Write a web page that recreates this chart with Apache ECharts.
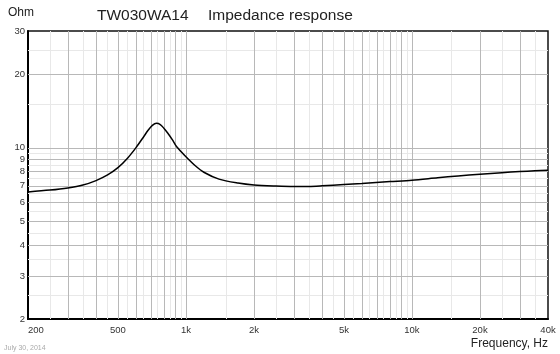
<!DOCTYPE html>
<html>
<head>
<meta charset="utf-8">
<script src="https://cdn.jsdelivr.net/npm/echarts@6/dist/echarts.min.js"></script>
<style>
  html, body { margin: 0; padding: 0; background: #fff; }
  #chart { width: 560px; height: 354px; }
</style>
</head>
<body>
<div id="chart"></div>
<script>
// impedance curve
const freqs = [200, 250, 300, 350, 400, 450, 500, 550, 600, 650, 680, 710, 740, 770, 800, 830, 870, 910, 1000, 1100, 1200, 1400, 1700, 2000, 2500, 3000, 3500, 4000, 5000, 6000, 8000, 10000, 13000, 16000, 20000, 25000, 30000, 35000, 40000];
const ohms = [6.60, 6.72, 6.86, 7.05, 7.35, 7.75, 8.30, 9.05, 10.0, 11.1, 11.8, 12.35, 12.6, 12.45, 12.0, 11.5, 10.8, 10.1, 9.2, 8.45, 7.95, 7.45, 7.18, 7.05, 6.98, 6.95, 6.96, 7.0, 7.08, 7.15, 7.28, 7.38, 7.55, 7.68, 7.80, 7.92, 8.0, 8.06, 8.1];

// tick labels
const xTicks = [200, 500, 1000, 2000, 5000, 10000, 20000, 40000];
const yTicks = [2, 3, 4, 5, 6, 7, 8, 9, 10, 20, 30];

// grid lines
const xMajor = [300, 400, 500, 600, 700, 800, 900, 1000, 2000, 3000, 4000, 5000, 6000, 7000, 8000, 9000, 10000, 20000, 30000];
const xMinor = [250, 350, 450, 550, 650, 750, 850, 950, 1500, 2500, 3500, 4500, 5500, 6500, 7500, 8500, 9500, 15000, 25000, 35000];
const yMajor = [3, 4, 5, 6, 7, 8, 9, 10, 20];
const yMinor = [2.5, 3.5, 4.5, 5.5, 6.5, 7.5, 8.5, 9.5, 15, 25];

const FONT = "Liberation Sans, Arial, sans-serif";
const chart = echarts.init(document.getElementById("chart"));

const gridLines = [
  ...xMinor.map((v) => ({ xAxis: v, lineStyle: { color: "#e8e8e8", width: 1, type: "solid" } })),
  ...yMinor.map((v) => ({ yAxis: v, lineStyle: { color: "#e8e8e8", width: 1, type: "solid" } })),
  ...xMajor.map((v) => ({ xAxis: v, lineStyle: { color: "#b8b8b8", width: 1, type: "solid" } })),
  ...yMajor.map((v) => ({ yAxis: v, lineStyle: { color: "#b8b8b8", width: 1, type: "solid" } })),
];

chart.setOption({
  animation: false,
  backgroundColor: "#fff",
  grid: {
    left: 28, right: 12, top: 31, bottom: 35,
    show: true, borderColor: "#111", borderWidth: 1.5,
  },
  graphic: [
    { type: "text", left: 8, top: 7, style: { text: "Ohm", font: `12px ${FONT}`, fill: "#222" } },
    { type: "text", left: 97, top: 8, style: { text: "TW030WA14", font: `15.5px ${FONT}`, fill: "#222" } },
    { type: "text", left: 208, top: 8, style: { text: "Impedance response", font: `15.5px ${FONT}`, fill: "#222" } },
    { type: "text", right: 12, top: 338, style: { text: "Frequency, Hz", font: `12px ${FONT}`, fill: "#222" } },
    { type: "text", left: 4, top: 345, style: { text: "July 30, 2014", font: `7px ${FONT}`, fill: "#aaa" } },
  ],
  xAxis: {
    type: "log", logBase: 10, min: 200, max: 40000,
    axisLine: { show: true, onZero: false, lineStyle: { color: "#000", width: 2 } },
    axisTick: { show: false },
    splitLine: { show: false },
    axisLabel: {
      customValues: xTicks,
      alignMinLabel: "left",
      color: "#333", fontSize: 9.5, fontFamily: FONT, margin: 6,
      formatter: (v) => (v >= 1000 ? v / 1000 + "k" : String(v)),
    },
  },
  yAxis: {
    type: "log", logBase: 10, min: 2, max: 30,
    axisLine: { show: true, onZero: false, lineStyle: { color: "#000", width: 2 } },
    axisTick: { show: false },
    splitLine: { show: false },
    axisLabel: {
      customValues: yTicks,
      color: "#333", fontSize: 9.5, fontFamily: FONT, margin: 3,
    },
  },
  series: [
    {
      // carries the grid lines, drawn under the curve
      type: "line",
      z: 1,
      data: freqs.map((f, i) => [f, ohms[i]]),
      showSymbol: false,
      lineStyle: { opacity: 0 },
      silent: true,
      markLine: { z: 1, silent: true, symbol: ["none", "none"], label: { show: false }, animation: false, data: gridLines },
    },
    {
      name: "Impedance",
      type: "line",
      z: 10,
      data: freqs.map((f, i) => [f, ohms[i]]),
      smooth: 0.3,
      showSymbol: false,
      lineStyle: { color: "#000", width: 1.5 },
    },
  ],
});
</script>
</body>
</html>
